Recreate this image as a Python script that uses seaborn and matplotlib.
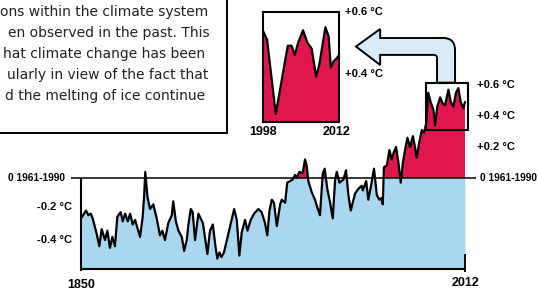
import numpy as np
import matplotlib.pyplot as plt
import seaborn as sns
from matplotlib.patches import Rectangle, PathPatch
from matplotlib.path import Path

# Global temperature anomaly vs. 1961-1990 mean (deg C)
years = [1850.0, 1852.1, 1853.1, 1854.1, 1854.9, 1856.6, 1857.7, 1858.7, 1860.1, 1861.1,
         1862.2, 1863.2, 1864.3, 1865.3, 1866.7, 1867.6, 1868.6, 1869.7, 1870.7, 1871.8,
         1872.8, 1874.9, 1876.0, 1876.6, 1877.1, 1878.0, 1879.1, 1880.5, 1881.9, 1883.3,
         1884.3, 1885.4, 1886.8, 1888.3, 1888.9, 1890.0, 1891.1, 1892.5, 1893.5, 1894.6,
         1895.3, 1896.3, 1897.1, 1898.1, 1899.5, 1901.4, 1903.3, 1904.4, 1905.6, 1906.7,
         1907.5, 1908.4, 1909.2, 1910.3, 1912.9, 1914.6, 1915.7, 1916.8, 1917.8, 1919.2,
         1920.2, 1921.6, 1923.0, 1924.8, 1926.2, 1927.6, 1928.6, 1929.5, 1930.5, 1931.4,
         1932.6, 1934.0, 1934.7, 1936.1, 1937.0, 1938.2, 1939.3, 1940.3, 1941.0, 1942.1,
         1943.5, 1944.5, 1945.2, 1945.9, 1947.3, 1948.7, 1949.7, 1950.8, 1952.0, 1952.8,
         1953.9, 1955.1, 1956.2, 1957.2, 1957.9, 1959.0, 1960.7, 1961.8, 1962.8, 1963.8,
         1965.6, 1967.0, 1968.4, 1968.9, 1970.3, 1971.2, 1972.6, 1973.6, 1974.8, 1975.9,
         1976.7, 1977.3, 1977.8, 1979.0, 1980.1, 1981.1, 1981.8, 1982.9, 1983.9, 1984.9,
         1985.8, 1986.7, 1987.7, 1988.8, 1990.0, 1990.9, 1991.6, 1992.7, 1993.8, 1994.7,
         1995.6, 1996.5, 1997.5, 1998.7, 1999.4, 2000.3, 2001.5, 2002.6, 2003.6, 2005.0,
         2006.0, 2007.1, 2008.2, 2009.2, 2010.2, 2011.3, 2012.0]
anomaly = [-0.26, -0.21, -0.24, -0.23, -0.26, -0.36, -0.44, -0.33, -0.40, -0.34,
           -0.45, -0.38, -0.44, -0.25, -0.22, -0.28, -0.23, -0.28, -0.23, -0.30,
           -0.27, -0.38, -0.25, -0.12, 0.04, -0.12, -0.20, -0.17, -0.26, -0.37,
           -0.34, -0.40, -0.29, -0.24, -0.15, -0.28, -0.34, -0.38, -0.47, -0.40,
           -0.30, -0.20, -0.22, -0.40, -0.23, -0.29, -0.49, -0.34, -0.30, -0.44,
           -0.52, -0.48, -0.51, -0.48, -0.31, -0.20, -0.27, -0.50, -0.35, -0.27,
           -0.34, -0.27, -0.23, -0.20, -0.22, -0.29, -0.37, -0.21, -0.14, -0.16,
           -0.31, -0.17, -0.14, -0.16, -0.03, -0.02, -0.01, 0.02, 0.00, 0.04,
           0.03, 0.12, 0.08, -0.02, -0.09, -0.14, -0.19, -0.24, 0.03, 0.06,
           -0.07, -0.16, -0.26, -0.01, 0.04, -0.03, -0.01, 0.05, -0.11, -0.21,
           -0.10, -0.07, -0.05, -0.08, -0.02, -0.14, -0.03, 0.06, -0.11, -0.14,
           -0.13, -0.17, 0.07, 0.08, 0.18, 0.12, 0.16, 0.20, 0.10, -0.03,
           0.10, 0.18, 0.26, 0.20, 0.27, 0.20, 0.13, 0.23, 0.31, 0.29,
           0.35, 0.55, 0.49, 0.44, 0.34, 0.46, 0.52, 0.48, 0.47, 0.57,
           0.49, 0.46, 0.55, 0.58, 0.49, 0.45, 0.49]

# Zoomed view 1998-2012
inset_years = [1998.0, 1998.8, 2000.4, 2001.1, 2002.0, 2002.6, 2003.3, 2003.9, 2004.5, 2005.4,
               2006.2, 2007.0, 2007.8, 2008.4, 2009.5, 2010.1, 2010.5, 2011.0, 2011.6, 2012.0]
inset_anomaly = [0.54, 0.51, 0.27, 0.34, 0.43, 0.49, 0.49, 0.46, 0.50, 0.54,
                 0.50, 0.48, 0.39, 0.43, 0.55, 0.52, 0.42, 0.44, 0.45, 0.46]

text_lines = ["ons within the climate system",
              "en observed in the past. This",
              "hat climate change has been",
              "ularly in view of the fact that",
              "d the melting of ice continue"]
text_x = [0, 8, 3, 7, 5]

BLUE = "#a9d7f2"
RED = "#e0174c"
PIPE = "#d9ebf7"
BASE = -0.587

sns.set_theme(style="white")
plt.rcParams["font.family"] = ["DejaVu Sans"]
lab = dict(family="Liberation Sans", weight="bold", color="black")

fig = plt.figure(figsize=(5.38, 2.94), dpi=100)
ax = fig.add_axes([0, 0, 1, 1])
ax.set_xlim(1815.8, 2042.8)
ax.set_ylim(-0.748, 1.148)
ax.axis("off")

x = np.array(years)
y = np.array(anomaly)
ax.fill_between(x, BASE, np.minimum(y, 0), color=BLUE, lw=0)
ax.fill_between(x, 0, y, where=y > 0, interpolate=True, color=RED, lw=0)
sns.lineplot(x=x, y=y, ax=ax, color="black", lw=1.6, zorder=4)

# frame lines
ax.hlines(0, 1845.9, 2016.7, color="black", lw=1.1, zorder=3)
ax.vlines(1850, BASE - 0.015, 0, color="black", lw=1.5)
ax.hlines(BASE, 1850, 2012, color="black", lw=1.5)
ax.vlines(2012, BASE - 0.02, -0.49, color="black", lw=1.3)

# left / bottom labels
ax.text(1843.2, 0, "0 1961-1990", ha="right", va="center", fontsize=7.3, **lab)
ax.text(1846.2, -0.19, "-0.2 °C", ha="right", va="center", fontsize=8, **lab)
ax.text(1846.2, -0.40, "-0.4 °C", ha="right", va="center", fontsize=8, **lab)
ax.text(1850, -0.69, "1850", ha="center", va="center", fontsize=9, **lab)
ax.text(2012, -0.68, "2012", ha="center", va="center", fontsize=9, **lab)

# right labels
ax.text(2018.4, 0, "0 1961-1990", ha="left", va="center", fontsize=7.3, **lab)
for v in [0.2, 0.4, 0.6]:
    ax.text(2017.1, v, f"+{v:.1f} °C", ha="left", va="center", fontsize=8, **lab)

# zoom window on main chart
ax.add_patch(Rectangle((1995.6, 0.31), 17.8, 0.305, fill=False, ec="black", lw=1.5, zorder=5))

# pipe arrow towards the inset
xl, xr, yb = 2000.2, 2007.8, 0.615
s_lo, s_hi = 0.794, 0.903
xh, xt, yt = 1976.2, 1966.0, 0.848
verts = [(xl, yb), (xl, s_lo - 0.02), (xl, s_lo), (xl - 1.5, s_lo),
         (xh, s_lo), (xh, 0.729), (xt, yt), (xh, 0.961), (xh, s_hi),
         (xr - 5, s_hi), (xr, s_hi), (xr, s_hi - 0.08), (xr, yb), (xl, yb)]
codes = [Path.MOVETO, Path.LINETO, Path.CURVE3, Path.CURVE3,
         Path.LINETO, Path.LINETO, Path.LINETO, Path.LINETO, Path.LINETO,
         Path.LINETO, Path.CURVE3, Path.CURVE3, Path.LINETO, Path.CLOSEPOLY]
ax.add_patch(PathPatch(Path(verts, codes), fc=PIPE, ec="black", lw=1.4, zorder=5))

# inset
ax_in = fig.add_axes([262.7 / 538, (294 - 122) / 294, 76.3 / 538, 110.3 / 294])
ax_in.set_xlim(1998, 2012)
ax_in.set_ylim(0.244, 0.6)
ax_in.fill_between(inset_years, 0.244, inset_anomaly, color=RED, lw=0)
sns.lineplot(x=inset_years, y=inset_anomaly, ax=ax_in, color="black", lw=1.6)
ax_in.set_xticks([])
ax_in.set_yticks([])
ax_in.set_xlabel("")
ax_in.set_ylabel("")
for sp in ax_in.spines.values():
    sp.set_color("black")
    sp.set_linewidth(1.5)
ty = ax_in.get_yaxis_transform()
ax_in.text(1.08, 0.6, "+0.6 °C", transform=ty, ha="left", va="center", fontsize=8, **lab)
ax_in.text(1.08, 0.4, "+0.4 °C", transform=ty, ha="left", va="center", fontsize=8, **lab)
tx = ax_in.get_xaxis_transform()
ax_in.text(1998, -0.09, "1998", transform=tx, ha="center", va="center", fontsize=9, **lab)
ax_in.text(2011.5, -0.09, "2012", transform=tx, ha="center", va="center", fontsize=9, **lab)

# cropped text box
fig.patches.append(Rectangle((-0.1, 1 - 133 / 294), 0.1 + 227 / 538, 1.0,
                             transform=fig.transFigure, fill=False, ec="black", lw=1.4))
for i, (t, x0) in enumerate(zip(text_lines, text_x)):
    fig.text(x0 / 538, 1 - (11.7 + 21 * i) / 294, t, ha="left", va="center",
             fontsize=10, color="#222222")

fig.savefig("out.png", dpi=100)
